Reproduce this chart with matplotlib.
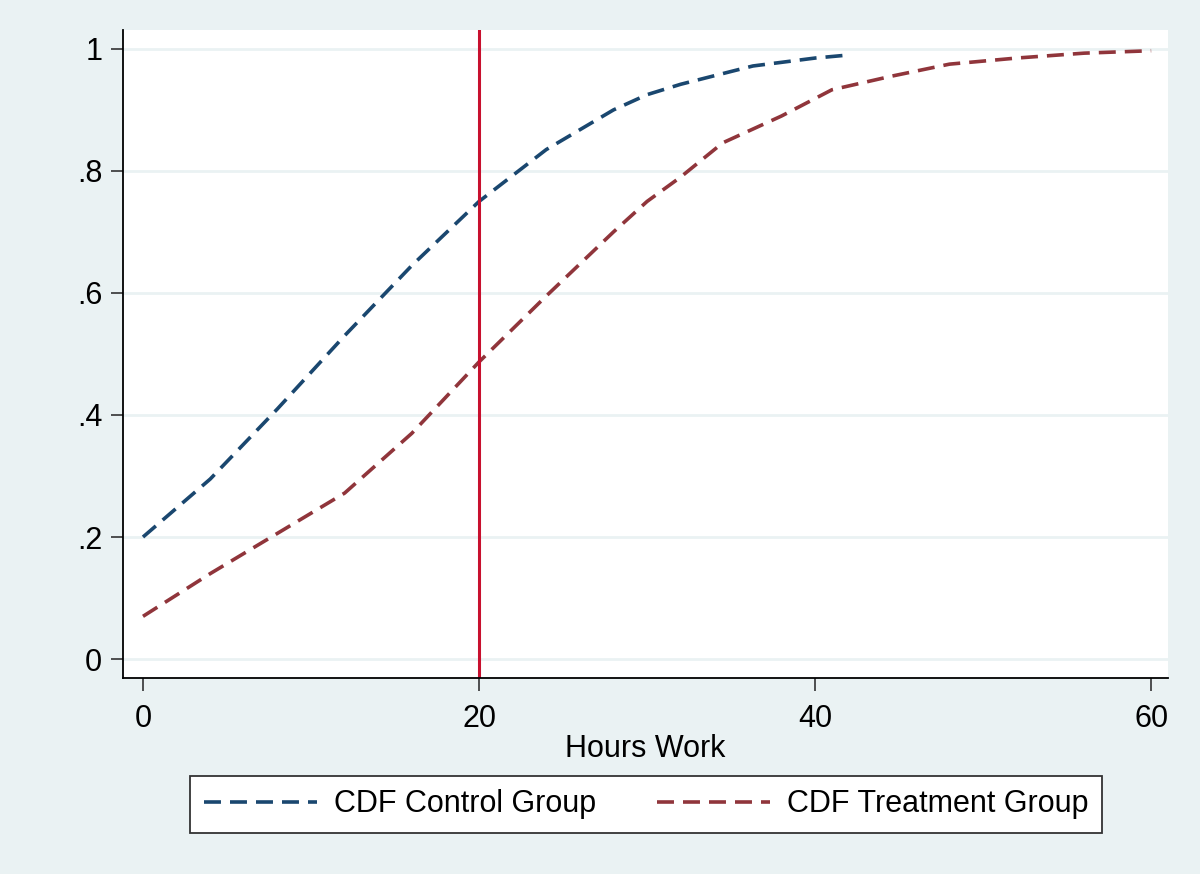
#CDF of hours worked, control vs treatment group
import matplotlib
matplotlib.use("Agg")
import matplotlib.pyplot as plt

plt.rcParams['font.family'] = ['Liberation Sans', 'DejaVu Sans']

#data
control_hours = [0, 4, 8, 12, 16, 20, 24, 28, 30, 32, 35, 36.3, 40, 42]
control_cdf = [0.2, 0.295, 0.41, 0.53, 0.645, 0.75, 0.835, 0.9, 0.925, 0.942, 0.963, 0.972, 0.985, 0.99]
treat_hours = [0, 4, 8, 12, 16, 20, 24, 28, 30, 32, 34.5, 38, 41, 44.5, 48, 52, 56, 60]
treat_cdf = [0.07, 0.14, 0.206, 0.272, 0.37, 0.487, 0.595, 0.7, 0.75, 0.79, 0.846, 0.89, 0.933, 0.955, 0.975, 0.985, 0.993, 0.997]
cutoff = 20
x_ticks = [0, 20, 40, 60]
y_ticks = [0, 0.2, 0.4, 0.6, 0.8, 1]
y_labels = ["0", ".2", ".4", ".6", ".8", "1"]

bg = "#EAF2F3"
fig = plt.figure(figsize=(12, 8.74), dpi=100, facecolor=bg)
ax = fig.add_axes([0.1025, 0.2243, 0.8708, 0.7414])
ax.set_facecolor("white")

for y in y_ticks:
	ax.axhline(y, color=bg, lw=2, zorder=0)

dash = (0, (4.7, 2.5))
ax.plot(control_hours, control_cdf, color="#1A476F", lw=2.6, ls=dash, label="CDF Control Group")
ax.plot(treat_hours, treat_cdf, color="#90353B", lw=2.6, ls=dash, label="CDF Treatment Group")
ax.axvline(cutoff, color="#C8102E", lw=2.2)

ax.set_xlim(-1.19, 61.0)
ax.set_ylim(-0.031, 1.031)
ax.set_xticks(x_ticks)
ax.set_yticks(y_ticks)
ax.set_yticklabels(y_labels)
ax.tick_params(axis='both', labelsize=22, length=9, width=1.2, color="#333333")
ax.tick_params(axis='x', pad=10)
ax.tick_params(axis='y', pad=6)
ax.set_xlabel("Hours Work", fontsize=22, labelpad=0)

for s in ["top", "right"]:
	ax.spines[s].set_visible(False)
for s in ["left", "bottom"]:
	ax.spines[s].set_color("black")
	ax.spines[s].set_linewidth(1.3)

leg = fig.legend(loc="lower left", bbox_to_anchor=(190/1200, 1-833/874, 912/1200, 57/874),
	mode="expand", ncol=2, fontsize=22, frameon=True, fancybox=False, framealpha=1,
	handlelength=3.7, handletextpad=0.55, borderaxespad=0, borderpad=0.45)
leg.get_frame().set_edgecolor("#333333")
leg.get_frame().set_linewidth(1.3)
leg.get_frame().set_facecolor("white")

plt.savefig("out.png", facecolor=bg)
